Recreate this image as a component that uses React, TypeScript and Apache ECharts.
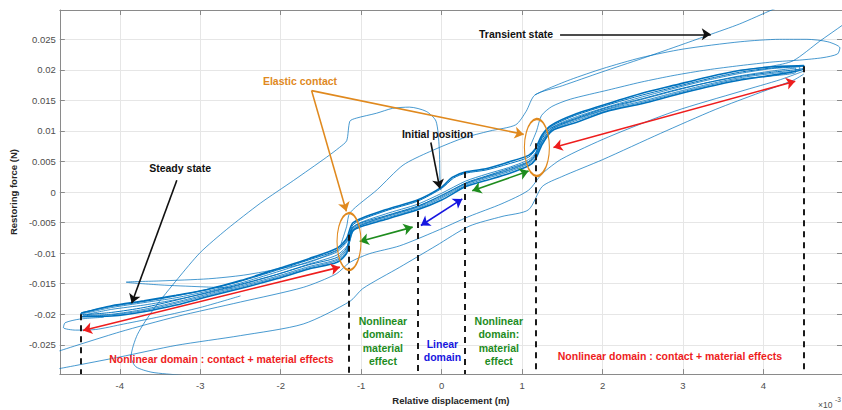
import React, { useEffect, useRef } from "react";
import * as echarts from "echarts";

// x in 1e-3 m, y in mN (axis labels show N)
const X_MIN = -4.745;
const X_MAX = 4.976;
const Y_MIN = -29.8;
const Y_MAX = 29.8;
const xTicks = [-4, -3, -2, -1, 0, 1, 2, 3, 4];
const yTicks = [-25, -20, -15, -10, -5, 0, 5, 10, 15, 20, 25];

// steady-state hysteresis loops
const steadyA = [[-4.48,-19.8],[-4.1,-18.6],[-3.7,-17.8],[-3.3,-16.9],[-2.9,-15.9],[-2.5,-14.5],[-2.05,-12.6],[-1.65,-10.9],[-1.3,-9.2],[-1.18,-7.6],[-1.1,-5.0],[-0.7,-2.9],[-0.3,-1.3],[0.0,0.8],[0.13,2.4],[0.3,3.3],[0.55,3.8],[0.83,4.9],[1.08,6.0],[1.16,7.0],[1.25,9.4],[1.37,11.0],[1.65,12.7],[2.05,14.4],[2.5,16.2],[2.9,17.5],[3.3,18.8],[3.7,19.9],[4.1,20.5],[4.5,20.7],
  [4.5,20.2],[4.1,19.1],[3.7,18.3],[3.3,17.2],[2.9,15.9],[2.5,14.5],[2.05,13.2],[1.65,11.3],[1.37,10.0],[1.25,7.8],[1.16,5.2],[1.08,4.3],[0.83,3.0],[0.55,1.9],[0.3,0.9],[0.0,-1.3],[-0.3,-2.9],[-0.7,-4.5],[-1.1,-6.3],[-1.18,-10.0],[-1.3,-11.5],[-1.65,-12.6],[-2.05,-14.2],[-2.5,-15.8],[-2.9,-17.1],[-3.3,-18.5],[-3.7,-19.6],[-4.1,-20.3],[-4.48,-20.4],[-4.48,-19.8]];
const steadyB = [[-4.45,-19.9],[-4.1,-18.9],[-3.7,-18.1],[-3.3,-17.3],[-2.9,-16.2],[-2.5,-14.9],[-2.05,-13.1],[-1.65,-11.4],[-1.3,-9.8],[-1.17,-8.0],[-1.08,-5.5],[-0.7,-3.6],[-0.3,-2.0],[0.0,-0.2],[0.3,1.8],[0.55,2.9],[0.83,4.0],[1.08,5.3],[1.17,6.5],[1.25,9.0],[1.37,10.6],[1.65,12.2],[2.05,13.9],[2.5,15.6],[2.9,17.0],[3.3,18.3],[3.7,19.4],[4.1,20.2],[4.45,20.5],
  [4.45,20.0],[4.1,19.4],[3.7,18.7],[3.3,17.6],[2.9,16.3],[2.5,14.9],[2.05,13.5],[1.65,11.8],[1.37,10.3],[1.25,8.4],[1.16,5.8],[1.08,4.8],[0.83,3.5],[0.55,2.4],[0.3,1.3],[0.0,-0.8],[-0.3,-2.5],[-0.7,-4.1],[-1.1,-5.9],[-1.18,-9.4],[-1.3,-11.0],[-1.65,-12.2],[-2.05,-13.8],[-2.5,-15.4],[-2.9,-16.7],[-3.3,-18.0],[-3.7,-19.2],[-4.1,-20.0],[-4.45,-20.2],[-4.45,-19.9]];
const steadyC = [[-4.4,-20.0],[-4.1,-19.2],[-3.7,-18.5],[-3.3,-17.6],[-2.9,-16.5],[-2.5,-15.2],[-2.05,-13.5],[-1.65,-11.8],[-1.3,-10.3],[-1.16,-8.6],[-1.08,-6.0],[-0.7,-4.0],[-0.3,-2.4],[0.0,-0.5],[0.3,1.4],[0.55,2.5],[0.83,3.6],[1.08,4.9],[1.17,6.1],[1.26,8.6],[1.37,10.3],[1.65,11.9],[2.05,13.6],[2.5,15.2],[2.9,16.6],[3.3,17.9],[3.7,19.0],[4.1,19.8],[4.4,20.3],
  [4.4,19.6],[4.1,19.0],[3.7,18.5],[3.3,17.4],[2.9,16.1],[2.5,14.7],[2.05,13.3],[1.65,11.6],[1.37,10.1],[1.25,8.1],[1.16,5.5],[1.08,4.6],[0.83,3.3],[0.55,2.2],[0.3,1.1],[0.0,-1.0],[-0.3,-2.7],[-0.7,-4.3],[-1.1,-6.1],[-1.18,-9.7],[-1.3,-11.2],[-1.65,-12.4],[-2.05,-14.0],[-2.5,-15.6],[-2.9,-16.9],[-3.3,-18.2],[-3.7,-19.4],[-4.1,-20.1],[-4.4,-20.3],[-4.4,-20.0]];
const steadyD = [[-4.46,-19.7],[-4.1,-18.7],[-3.7,-17.9],[-3.3,-17.0],[-2.9,-15.9],[-2.5,-14.6],[-2.05,-12.8],[-1.65,-11.1],[-1.3,-9.5],[-1.17,-7.8],[-1.09,-5.2],[-0.7,-3.1],[-0.3,-1.5],[0.0,0.6],[0.15,2.3],[0.3,3.1],[0.55,3.6],[0.83,4.6],[1.08,5.7],[1.16,6.8],[1.25,9.2],[1.37,10.8],[1.65,12.5],[2.05,14.2],[2.5,15.9],[2.9,17.2],[3.3,18.5],[3.7,19.6],[4.1,20.3],[4.5,20.6],
  [4.5,20.3],[4.1,19.6],[3.7,18.9],[3.3,17.9],[2.9,16.7],[2.5,15.3],[2.05,13.8],[1.65,12.0],[1.37,10.5],[1.25,8.8],[1.16,6.1],[1.08,5.0],[0.83,3.8],[0.55,2.6],[0.3,1.5],[0.0,-0.6],[-0.3,-2.3],[-0.7,-3.9],[-1.1,-5.7],[-1.18,-9.1],[-1.3,-10.7],[-1.65,-11.9],[-2.05,-13.5],[-2.5,-15.1],[-2.9,-16.4],[-3.3,-17.7],[-3.7,-18.9],[-4.1,-19.7],[-4.46,-20.1],[-4.46,-19.7]];

// transient trajectories
const transA = [[-0.01,0.3],[-0.02,1.9],[-0.03,7.3],[-0.07,11.6],[-0.19,13.2],[-0.4,13.9],[-0.61,13.7],[-0.81,12.9],[-1.06,12.1],[-1.14,11.6],[-1.18,8.4],[-1.27,7.3],[-1.43,5.7],[-1.84,1.9],[-2.25,-1.8],[-2.67,-6.1],[-3.0,-9.9],[-3.28,-14.2],[-3.57,-19.0],[-3.78,-23.3],[-3.86,-27.0],[-3.8,-28.6],[-3.6,-29.5],[-3.24,-30.0],[-3.0,-30.5]];
const transB = [[-1.25,-8.5],[-1.18,-5.6],[-1.14,-3.4],[-0.8,0.4],[-0.48,4.4],[-0.15,6.6],[0.26,8.8],[0.6,10.0],[0.92,11.0],[1.05,13.2],[1.16,15.9],[1.5,17.4],[1.98,19.6],[2.5,21.9],[3.0,24.2],[3.32,25.7],[3.7,27.5],[4.12,29.9],[4.3,30.8]];
const transC = [[-2.6,-15.7],[-3.0,-15.5],[-3.5,-15.2],[-3.92,-14.75],[-3.5,-14.55],[-2.9,-14.2],[-2.46,-13.6],[-1.95,-12.4],[-1.64,-11.5],[-1.3,-9.6]];
const transD = [[1.16,15.9],[1.3,16.8],[1.6,18.4],[2.0,20.2],[2.48,22.0],[3.0,23.4],[3.71,24.6],[4.2,25.0],[4.54,25.0],[4.8,24.6],[4.95,23.6],[4.92,22.6],[4.74,22.0],[4.45,21.6],[4.12,21.3],[3.71,20.7],[3.3,20.0],[2.89,19.1],[2.48,18.0],[2.07,16.7],[1.6,15.2],[1.37,14.0],[1.24,12.5],[1.18,10.0],[1.1,7.5]];
const transE = [[5.1,28.5],[4.98,27.3],[4.7,24.7],[4.37,21.5],[4.1,20.6],[3.7,19.9]];
const transF = [[-4.2,-20.5],[-4.5,-20.8],[-4.68,-21.4],[-4.7,-22.2],[-4.55,-22.6],[-4.3,-22.5],[-3.95,-21.6],[-3.5,-20.4],[-3.0,-18.9],[-2.5,-17.0]];
const lowerA = [[-4.75,-28.9],[-4.0,-27.0],[-3.3,-25.1],[-2.5,-23.5],[-1.72,-21.6],[-1.14,-17.9],[-0.98,-15.8],[-0.52,-12.3],[-0.07,-8.8],[0.34,-5.6],[0.75,-4.0],[1.08,-2.9],[1.25,0.9],[1.49,2.5],[2.0,5.3],[2.72,9.6],[3.4,13.5],[3.96,16.3],[4.37,18.3],[4.5,19.3]];
const lowerB = [[-4.75,-26.0],[-4.0,-22.9],[-3.3,-20.4],[-2.5,-18.0],[-1.72,-15.6],[-1.31,-13.4],[-1.14,-11.5],[-0.9,-10.1],[-0.52,-8.8],[-0.07,-6.4],[0.34,-4.0],[0.75,-1.9],[1.08,0.3],[1.25,3.0],[1.49,5.4],[2.07,9.0],[2.89,13.2],[3.72,16.5],[4.21,18.4],[4.5,19.8]];

// annotations (data coordinates)
const FONT = "'Liberation Sans', Arial, Helvetica, sans-serif";
const BLACK = "#111111";
const ORANGE = "#E0891E";
const RED = "#EE1D1D";
const GREEN = "#1E8C1E";
const BLUE = "#1616E0";

const singleArrows = [
  { from: [-3.291, 1.94], to: [-3.852, -18.19], color: BLACK },
  { from: [-0.134, 8.11], to: [-0.023, 0.59], color: BLACK },
  { from: [1.472, 25.82], to: [3.345, 25.82], color: BLACK },
  { from: [-1.616, 16.6], to: [-1.184, -3.16], color: ORANGE },
  { from: [-1.616, 16.6], to: [1.02, 9.44], color: ORANGE },
];
const doubleArrows = [
  { from: [-4.457, -22.65], to: [-1.265, -12.29], color: RED },
  { from: [1.39, 7.3], to: [4.395, 18.14], color: RED },
  { from: [-1.018, -8.1], to: [-0.36, -5.74], color: GREEN },
  { from: [0.381, 0.22], to: [1.081, 3.44], color: GREEN },
  { from: [-0.258, -5.47], to: [0.257, -1.12], color: BLUE },
];
const dashedX = [-4.48, -1.155, -0.3, 0.29, 1.165, 4.5];
const dashedTop = [-20.0, -7.0, -1.3, 3.3, 8.0, 20.6];
const labels = [
  { at: [0.925, 25.8], text: "Transient state", color: BLACK },
  { at: [-1.76, 18.1], text: "Elastic contact", color: ORANGE },
  { at: [-0.051, 9.56], text: "Initial position", color: BLACK },
  { at: [-3.25, 3.92], text: "Steady state", color: BLACK },
  { at: [-2.738, -27.3], text: "Nonlinear domain : contact + material effects", color: RED },
  { at: [2.837, -26.9], text: "Nonlinear domain : contact + material effects", color: RED },
  { at: [-0.73, -24.4], text: "Nonlinear\ndomain:\nmaterial\neffect", color: GREEN },
  { at: [0.711, -24.4], text: "Nonlinear\ndomain:\nmaterial\neffect", color: GREEN },
  { at: [0.01, -25.9], text: "Linear\ndomain", color: BLUE },
];
const ellipses = [
  { at: [-1.151, -8.11], size: [24, 57] },
  { at: [1.184, 7.3], size: [25, 57] },
];

const LINE_BLUE = "#0072BD";

function lineSeries(name: string, data: number[][], width: number, opacity = 1) {
  return {
    name,
    type: "line",
    data,
    showSymbol: false,
    symbol: "none",
    smooth: 0.25,
    silent: true,
    z: 2,
    lineStyle: { width, color: LINE_BLUE, opacity },
    emphasis: { disabled: true },
  };
}

export default function App() {
  const ref = useRef<HTMLDivElement>(null);
  useEffect(() => {
    if (!ref.current) return;
    const chart = echarts.init(ref.current, null, { renderer: "svg" });

    const markLineData: any[] = [];
    singleArrows.forEach((a) => {
      markLineData.push([
        { coord: a.from, symbol: "none", lineStyle: { color: a.color, width: 1.6, type: "solid" } },
        { coord: a.to, symbol: "arrow", symbolSize: 9 },
      ]);
    });
    doubleArrows.forEach((a) => {
      markLineData.push([
        { coord: a.from, symbol: "arrow", symbolSize: 9, lineStyle: { color: a.color, width: 1.6, type: "solid" } },
        { coord: a.to, symbol: "arrow", symbolSize: 9 },
      ]);
    });
    dashedX.forEach((x, i) => {
      markLineData.push([
        { coord: [x, dashedTop[i]], symbol: "none", lineStyle: { color: "#1a1a1a", width: 2, type: [6, 5] } },
        { coord: [x, Y_MIN], symbol: "none" },
      ]);
    });

    const markPointData: any[] = [];
    ellipses.forEach((e) => {
      markPointData.push({
        coord: e.at,
        symbol: "circle",
        symbolSize: e.size,
        itemStyle: { color: "rgba(0,0,0,0)", borderColor: ORANGE, borderWidth: 1.6 },
        label: { show: false },
      });
    });
    labels.forEach((l) => {
      markPointData.push({
        coord: l.at,
        symbol: "circle",
        symbolSize: 1,
        itemStyle: { color: "rgba(0,0,0,0)" },
        label: {
          show: true,
          position: "inside",
          formatter: l.text,
          color: l.color,
          fontSize: 10.5,
          fontWeight: "bold",
          fontFamily: FONT,
          lineHeight: 13.5,
          align: "center",
        },
      });
    });

    const annotated: any = lineSeries("transE", transE, 0.8, 0.9);
    annotated.markLine = {
      silent: true,
      animation: false,
      label: { show: false },
      emphasis: { disabled: true },
      data: markLineData,
    };
    annotated.markPoint = {
      silent: true,
      animation: false,
      emphasis: { disabled: true },
      data: markPointData,
    };

    const axisColor = "#8a8a8a";
    const tickLabel = { color: "#4d4d4d", fontSize: 9.5, fontFamily: FONT };

    chart.setOption({
      animation: false,
      backgroundColor: "#ffffff",
      grid: { left: 55, top: 10, width: 787, height: 370, containLabel: false },
      xAxis: [
        {
          type: "value",
          min: X_MIN,
          max: X_MAX,
          position: "bottom",
          name: "Relative displacement (m)",
          nameLocation: "middle",
          nameGap: 17,
          nameTextStyle: { fontFamily: FONT, fontSize: 9.5, fontWeight: "bold", color: "#262626" },
          axisLine: { show: true, onZero: false, lineStyle: { color: axisColor, width: 1 } },
          axisTick: { show: true, inside: true, length: 5, customValues: xTicks, lineStyle: { color: axisColor } },
          axisLabel: { ...tickLabel, customValues: xTicks, margin: 6, formatter: (v: number) => String(v) },
          splitLine: { show: true, lineStyle: { color: "#e6e6e6", width: 1 } },
        },
        {
          type: "value",
          min: X_MIN,
          max: X_MAX,
          position: "top",
          axisLine: { show: true, onZero: false, lineStyle: { color: axisColor, width: 1 } },
          axisTick: { show: true, inside: true, length: 5, customValues: xTicks, lineStyle: { color: axisColor } },
          axisLabel: { show: false },
          splitLine: { show: false },
        },
      ],
      yAxis: [
        {
          type: "value",
          min: Y_MIN,
          max: Y_MAX,
          position: "left",
          name: "Restoring force (N)",
          nameLocation: "middle",
          nameGap: 33,
          nameTextStyle: { fontFamily: FONT, fontSize: 9.5, fontWeight: "bold", color: "#262626" },
          axisLine: { show: true, onZero: false, lineStyle: { color: axisColor, width: 1 } },
          axisTick: { show: true, inside: true, length: 5, customValues: yTicks, lineStyle: { color: axisColor } },
          axisLabel: { ...tickLabel, customValues: yTicks, margin: 4, formatter: (v: number) => String(v / 1000) },
          splitLine: { show: true, lineStyle: { color: "#e6e6e6", width: 1 } },
        },
        {
          type: "value",
          min: Y_MIN,
          max: Y_MAX,
          position: "right",
          axisLine: { show: true, onZero: false, lineStyle: { color: axisColor, width: 1 } },
          axisTick: { show: true, inside: true, length: 5, customValues: yTicks, lineStyle: { color: axisColor } },
          axisLabel: { show: false },
          splitLine: { show: false },
        },
      ],
      graphic: [
        { type: "text", left: 818, top: 400, silent: true, style: { text: "×10", fontSize: 8.5, fontFamily: FONT, fill: "#4d4d4d" } },
        { type: "text", left: 835, top: 396, silent: true, style: { text: "-3", fontSize: 6.5, fontFamily: FONT, fill: "#4d4d4d" } },
      ],
      series: [
        lineSeries("lowerA", lowerA, 0.8, 0.9),
        lineSeries("lowerB", lowerB, 0.8, 0.9),
        lineSeries("transA", transA, 0.8, 0.9),
        lineSeries("transB", transB, 0.8, 0.9),
        lineSeries("transC", transC, 0.8, 0.9),
        lineSeries("transD", transD, 0.8, 0.9),
        lineSeries("transF", transF, 0.8, 0.9),
        lineSeries("steadyB", steadyB, 0.8),
        lineSeries("steadyC", steadyC, 0.8),
        lineSeries("steadyD", steadyD, 1.0),
        lineSeries("steadyA", steadyA, 1.6),
        annotated,
      ],
    });
    return () => chart.dispose();
  }, []);
  return <div ref={ref} style={{ position: "absolute", left: 0, top: 0, width: 842, height: 410 }} />;
}
